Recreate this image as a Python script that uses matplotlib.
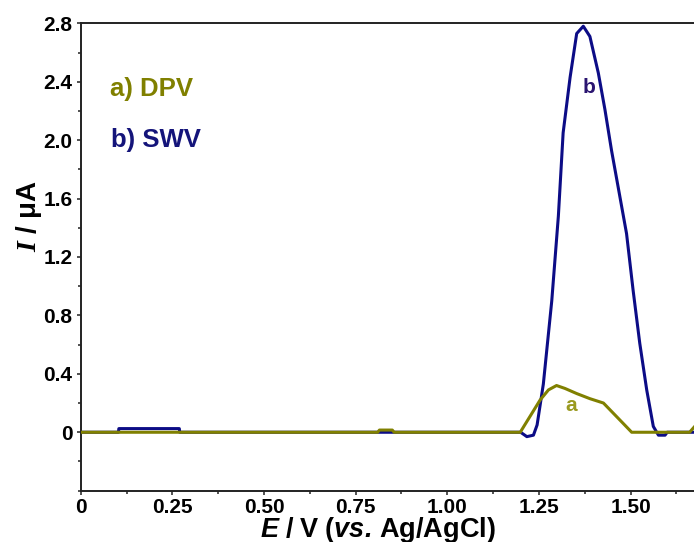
import numpy as np
import matplotlib
matplotlib.use("Agg")
import matplotlib.pyplot as plt
from matplotlib.ticker import MultipleLocator, FixedLocator, FixedFormatter

plt.rcParams['font.family'] = ['Liberation Sans', 'DejaVu Sans']
plt.rcParams['font.weight'] = 'bold'
plt.rcParams['mathtext.fontset'] = 'custom'
plt.rcParams['mathtext.rm'] = 'Liberation Sans:bold'
plt.rcParams['mathtext.it'] = 'Liberation Serif:italic:bold'
plt.rcParams['mathtext.bf'] = 'Liberation Sans:italic:bold'

# a) DPV voltammogram
dpv_e = [0, 0.81, 0.815, 0.85, 0.855, 1.199, 1.226, 1.253, 1.276, 1.298,
         1.321, 1.353, 1.389, 1.426, 1.453, 1.480, 1.503, 1.661, 1.675]
dpv_i = [0, 0, 0.015, 0.015, 0, 0, 0.11, 0.22, 0.29, 0.32,
         0.30, 0.265, 0.23, 0.20, 0.13, 0.06, 0, 0, 0.04]

# b) SWV voltammogram
swv_e = [0, 0.103, 0.104, 0.269, 0.270, 1.20, 1.217, 1.235, 1.245, 1.262,
         1.285, 1.303, 1.316, 1.335, 1.353, 1.371, 1.389, 1.412, 1.430, 1.448,
         1.466, 1.489, 1.507, 1.525, 1.544, 1.562, 1.576, 1.594, 1.600, 1.68]
swv_i = [0, 0, 0.025, 0.025, 0, 0, -0.03, -0.02, 0.05, 0.33,
         0.90, 1.48, 2.05, 2.43, 2.73, 2.78, 2.71, 2.46, 2.21, 1.93,
         1.68, 1.36, 0.97, 0.61, 0.29, 0.04, -0.02, -0.02, 0, 0]

x_ticks = [0, 0.25, 0.50, 0.75, 1.00, 1.25, 1.50]
x_labels = ['0', '0.25', '0.50', '0.75', '1.00', '1.25', '1.50']
y_ticks = [0, 0.4, 0.8, 1.2, 1.6, 2.0, 2.4, 2.8]
y_labels = ['0', '0.4', '0.8', '1.2', '1.6', '2.0', '2.4', '2.8']

c_dpv = '#808000'
c_swv = '#0c0c86'

fig = plt.figure(figsize=(6.94, 5.42), dpi=100)
ax = fig.add_axes([0.1163, 0.0947, 0.8837, 0.8623])

ax.plot(swv_e, swv_i, color=c_swv, lw=2.2, zorder=2)
ax.plot(dpv_e, dpv_i, color=c_dpv, lw=2.2, zorder=3)

ax.set_xlim(0, 1.673)
ax.set_ylim(-0.4, 2.8)

ax.xaxis.set_major_locator(FixedLocator(x_ticks))
ax.xaxis.set_major_formatter(FixedFormatter(x_labels))
ax.xaxis.set_minor_locator(MultipleLocator(0.125))
ax.yaxis.set_major_locator(FixedLocator(y_ticks))
ax.yaxis.set_major_formatter(FixedFormatter(y_labels))
ax.yaxis.set_minor_locator(MultipleLocator(0.2))

for side in ['left', 'bottom', 'top']:
    ax.spines[side].set_linewidth(1.4)
    ax.spines[side].set_color('#222222')
ax.spines['right'].set_visible(False)

ax.tick_params(which='major', direction='out', length=3, width=1.1,
               labelsize=15, pad=3, color='#222222')
ax.tick_params(axis='x', which='major', pad=2)
ax.tick_params(which='minor', direction='out', length=2, width=1.1,
               color='#222222')
ax.tick_params(top=False, right=False, which='both')

# axis titles, placed by their baselines
ax.text(0.485, -0.099,
        r'$\mathbf{E}\ \mathrm{/\ V\ (}\mathbf{vs.}\,\mathrm{Ag/AgCl)}$',
        transform=ax.transAxes, fontsize=19.5, ha='center', va='baseline',
        clip_on=False)
ax.text(-0.073, 0.588, r'$I\ \mathrm{/\ μA}$', transform=ax.transAxes,
        fontsize=20, rotation=90, rotation_mode='anchor',
        ha='center', va='baseline', clip_on=False)

ax.text(0.048, 0.86, 'a) DPV', transform=ax.transAxes, color=c_dpv,
        fontsize=18.5, fontweight='bold', ha='left', va='center')
ax.text(0.050, 0.75, 'b) SWV', transform=ax.transAxes, color='#14147a',
        fontsize=18.5, fontweight='bold', ha='left', va='center')

ax.text(1.386, 2.36, 'b', color='#2a1470', fontsize=15, fontweight='bold',
        ha='center', va='center')
ax.text(1.338, 0.18, 'a', color='#9a9a20', fontsize=15, fontweight='bold',
        ha='center', va='center')

fig.savefig('out.png', dpi=100)
